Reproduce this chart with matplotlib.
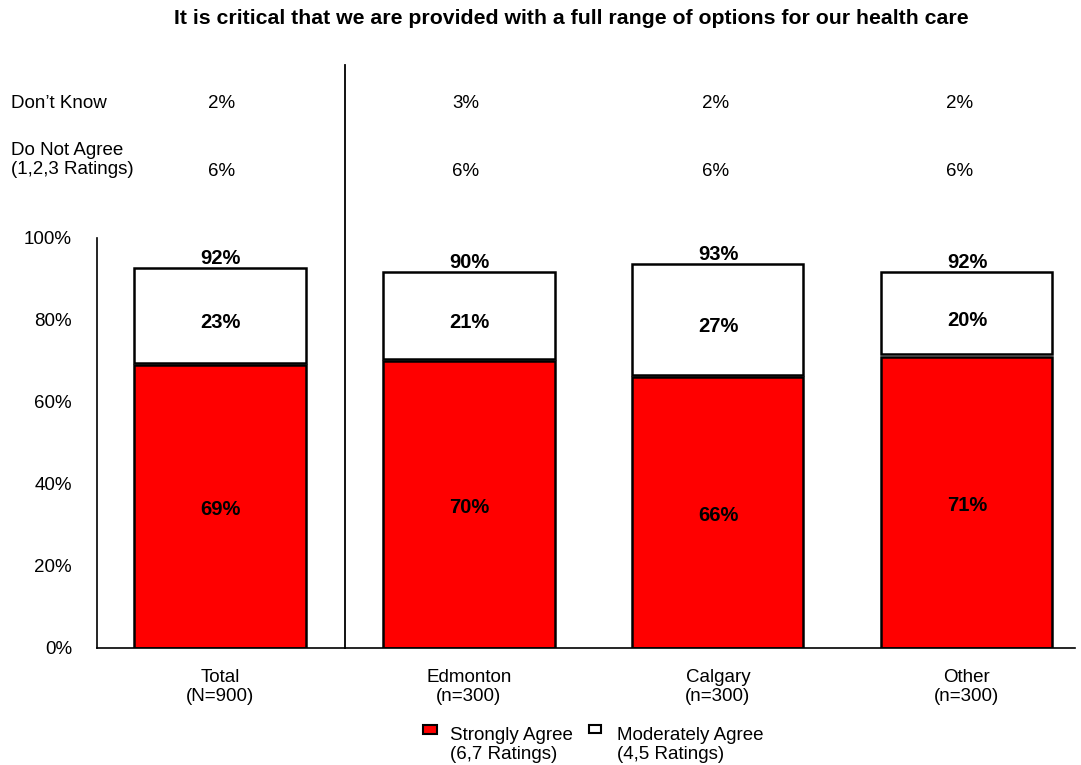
import matplotlib.pyplot as plt
from matplotlib.lines import Line2D
from matplotlib.patches import Rectangle

plt.rcParams['font.family'] = ['Liberation Sans', 'DejaVu Sans']

categories = ['Total\n(N=900)', 'Edmonton\n(n=300)', 'Calgary\n(n=300)', 'Other\n(n=300)']
strongly = [69, 70, 66, 71]
moderately = [23, 21, 27, 20]
totals = [92, 90, 93, 92]
dont_know = [2, 3, 2, 2]
do_not_agree = [6, 6, 6, 6]

W, H = 1081, 765
fig = plt.figure(figsize=(W / 100, H / 100), dpi=100)


def fx(px):
    return px / W


def fy(py):
    return 1 - py / H


ax = fig.add_axes([fx(97), fy(648), fx(1075) - fx(97), fy(238) - fy(648)])

x = list(range(len(categories)))
bw = 0.687
ax.bar(x, strongly, width=bw, color='#ff0000', edgecolor='black', linewidth=1.8)
ax.bar(x, moderately, width=bw, bottom=[s + 0.6 for s in strongly], color='white',
       edgecolor='black', linewidth=1.8)

for i in x:
    ax.annotate(f'{strongly[i]}%', (i, strongly[i] / 2), xytext=(0, -2),
                textcoords='offset points', ha='center', va='center',
                fontsize=14.5, fontweight='bold')
    ax.annotate(f'{moderately[i]}%', (i, strongly[i] + moderately[i] / 2), xytext=(0, -3),
                textcoords='offset points', ha='center', va='center',
                fontsize=14.5, fontweight='bold')
    ax.annotate(f'{totals[i]}%', (i, strongly[i] + moderately[i]), xytext=(0, 2),
                textcoords='offset points', ha='center', va='bottom',
                fontsize=14.5, fontweight='bold')

ax.set_xlim(-0.494, 3.434)
ax.set_ylim(0, 100)
ax.set_yticks([0, 20, 40, 60, 80, 100])
ax.set_yticklabels([f'{v}%' for v in range(0, 101, 20)], fontsize=13.5, va='center_baseline')
ax.set_xticks(x)
ax.set_xticklabels(categories, fontsize=13.5, linespacing=1.15)
ax.tick_params(axis='x', length=0, pad=15)
ax.tick_params(axis='y', length=0, pad=18)
for s in ['top', 'right']:
    ax.spines[s].set_visible(False)
ax.spines['left'].set_linewidth(1.2)
ax.spines['bottom'].set_linewidth(1.2)

# separator between total and regions
fig.add_artist(Line2D([fx(345), fx(345)], [fy(65), fy(648)], color='black', linewidth=1.3))

# title
fig.text(fx(571), fy(19), 'It is critical that we are provided with a full range of options for our health care',
         ha='center', va='center', fontsize=15.3, fontweight='bold')

# top rows
fig.text(fx(11), fy(104), 'Don\u2019t Know', ha='left', va='center', fontsize=13.5)
fig.text(fx(11), fy(160), 'Do Not Agree\n(1,2,3 Ratings)', ha='left', va='center', fontsize=13.5,
         linespacing=1.15)
value_x = [222, 466, 716, 960]
for i in x:
    fig.text(fx(value_x[i]), fy(104), f'{dont_know[i]}%', ha='center', va='center', fontsize=13.5)
    fig.text(fx(value_x[i]), fy(171), f'{do_not_agree[i]}%', ha='center', va='center', fontsize=13.5)

# legend
fig.add_artist(Rectangle((fx(423), fy(734)), fx(14), fy(725) - fy(734), facecolor='#ff0000',
                         edgecolor='black', linewidth=1.5, transform=fig.transFigure))
fig.text(fx(450), fy(745), 'Strongly Agree\n(6,7 Ratings)', ha='left', va='center', fontsize=13.5,
         linespacing=1.2)
fig.add_artist(Rectangle((fx(589), fy(733)), fx(12), fy(725) - fy(733), facecolor='white',
                         edgecolor='black', linewidth=1.5, transform=fig.transFigure))
fig.text(fx(617), fy(745), 'Moderately Agree\n(4,5 Ratings)', ha='left', va='center', fontsize=13.5,
         linespacing=1.2)

fig.savefig('out.png', dpi=100)
